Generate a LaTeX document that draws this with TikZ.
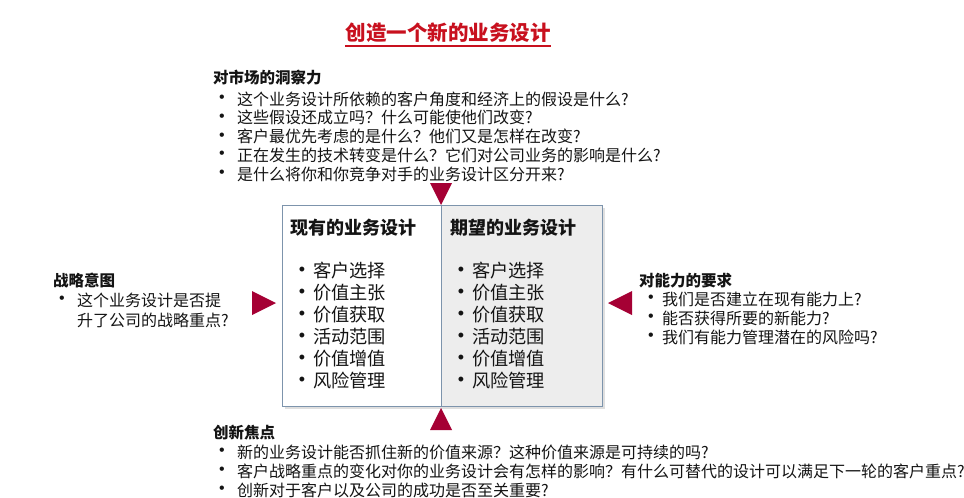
\documentclass[tikz,border=0pt]{standalone}
\usepackage{fontspec}
\setmainfont{Noto Sans CJK SC}
\newfontfamily\latinfont{Liberation Sans}
\usetikzlibrary{shadows}
\definecolor{tricol}{RGB}{165,0,52}
\definecolor{ttlcol}{RGB}{200,16,30}
\definecolor{boxline}{RGB}{125,148,172}
\definecolor{boxfill}{RGB}{237,237,237}
\definecolor{txtcol}{RGB}{20,20,20}
\tikzset{
  txt/.style={anchor=west, inner sep=0pt, text=txtcol, font=\fontsize{16}{18}\selectfont},
  hd/.style={anchor=west, inner sep=0pt, text=txtcol, font=\fontsize{15.5}{18}\selectfont\bfseries},
  bul/.style={anchor=center, inner sep=0pt, text=txtcol, font=\fontsize{16}{16}\latinfont},
  btxt/.style={anchor=west, inner sep=0pt, text=txtcol, font=\fontsize{18.2}{20}\selectfont},
  bhd/.style={anchor=west, inner sep=0pt, text=txtcol, font=\fontsize{18}{20}\selectfont\bfseries},
  bbul/.style={anchor=center, inner sep=0pt, text=txtcol, font=\fontsize{18}{18}\latinfont},
  trishape/.style={fill=tricol, draw=none},
  half/.style={draw=boxline, line width=1.2pt, minimum height=201pt, inner sep=0pt, anchor=north west}
}
\begin{document}
\begin{tikzpicture}[x=1pt, y=-1pt]
\useasboundingbox (0,0) rectangle (964,498);
\fill[white] (0,0) rectangle (964,498);

% title
\node[anchor=center, inner sep=0pt, text=ttlcol, font=\fontsize{20.5}{22}\selectfont\bfseries] (title) at (448,33) {创造一个新的业务设计};
\draw[ttlcol, line width=1.3pt] ([yshift=-3pt]title.south west) -- ([yshift=-3pt]title.south east);

% central box
\node[half, fill=white, minimum width=159pt, drop shadow={opacity=0.25, shadow xshift=2pt, shadow yshift=-2pt}] (boxL) at (282,205) {};
\node[half, fill=boxfill, minimum width=161pt, drop shadow={opacity=0.25, shadow xshift=2pt, shadow yshift=-2pt}] (boxR) at (441,205) {};

\node[bhd] (hL) at (290,228) {现有的业务设计};
\node[bhd] (hR) at (450,228) {期望的业务设计};
\foreach \t [count=\i] in {客户选择,价值主张,价值获取,活动范围,价值增值,风险管理}{
  \pgfmathsetmacro{\yy}{271+22*(\i-1)}
  \node[bbul] (lb\i) at (302,\yy) {•};
  \node[btxt] (lt\i) at (313,\yy) {\t};
  \node[bbul] (rb\i) at (461,\yy) {•};
  \node[btxt] (rt\i) at (472,\yy) {\t};
}

% triangles
\fill[trishape] (430,183) -- (452,183) -- (441,205) -- cycle;
\fill[trishape] (430,430) -- (452,430) -- (441,408) -- cycle;
\fill[trishape] (252,291) -- (276,303) -- (252,315) -- cycle;
\fill[trishape] (632,291) -- (608,303) -- (632,315) -- cycle;

% top block
\node[hd] (topH) at (213,78) {对市场的洞察力};
\foreach \t [count=\i] in {这个业务设计所依赖的客户角度和经济上的假设是什么?,这些假设还成立吗？什么可能使他们改变?,客户最优先考虑的是什么？他们又是怎样在改变?,正在发生的技术转变是什么？它们对公司业务的影响是什么?,是什么将你和你竞争对手的业务设计区分开来?}{
  \pgfmathsetmacro{\yy}{99+18.75*(\i-1)}
  \node[bul] (tb\i) at (222,\yy) {•};
  \node[txt] (tt\i) at (237,\yy) {\t};
}

% left block
\node[hd] (leftH) at (53,281) {战略意图};
\node[bul] (lfb1) at (62,300) {•};
\node[txt] (lft1) at (77,300) {这个业务设计是否提};
\node[txt] (lft2) at (77,320) {升了公司的战略重点?};

% right block
\node[hd] (rightH) at (639,281) {对能力的要求};
\foreach \t [count=\i] in {我们是否建立在现有能力上?,能否获得所要的新能力?,我们有能力管理潜在的风险吗?}{
  \pgfmathsetmacro{\yy}{299+19*(\i-1)}
  \node[bul] (rgb\i) at (651,\yy) {•};
  \node[txt] (rgt\i) at (662,\yy) {\t};
}

% bottom block
\node[hd] (botH) at (213,433) {创新焦点};
\foreach \t [count=\i] in {新的业务设计能否抓住新的价值来源？这种价值来源是可持续的吗?,客户战略重点的变化对你的业务设计会有怎样的影响？有什么可替代的设计可以满足下一轮的客户重点?,创新对于客户以及公司的成功是否至关重要?}{
  \pgfmathsetmacro{\yy}{452+19*(\i-1)}
  \node[bul] (bb\i) at (222,\yy) {•};
  \node[txt] (bt\i) at (237,\yy) {\t};
}
\end{tikzpicture}
\end{document}
